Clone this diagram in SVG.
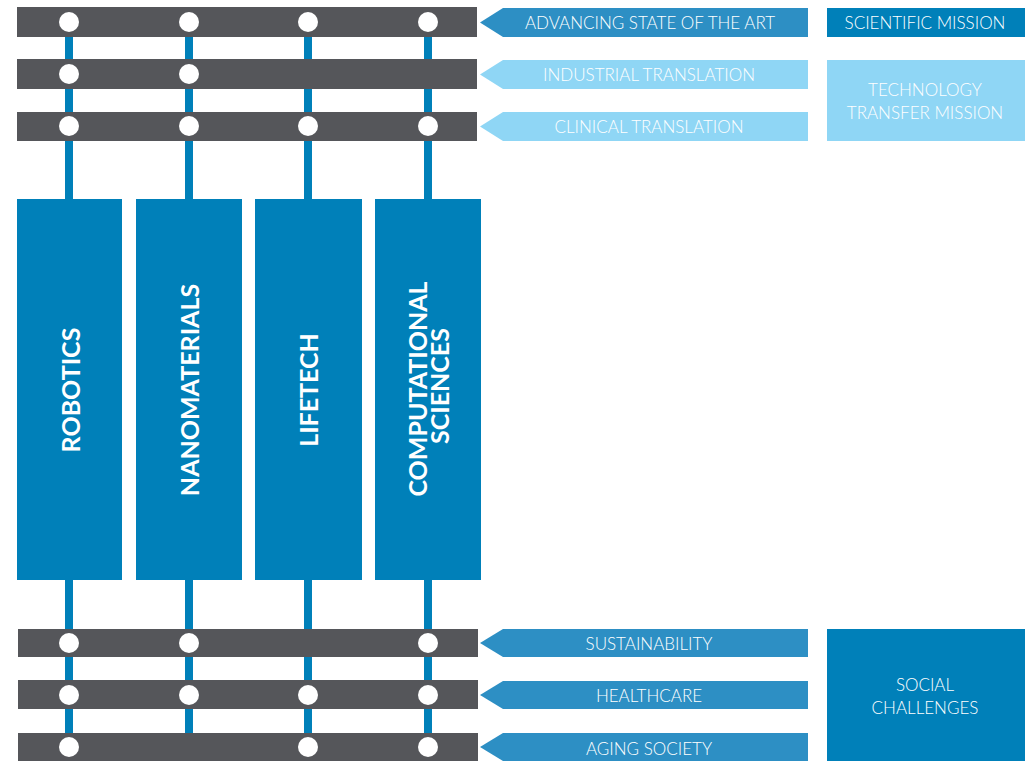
<svg xmlns="http://www.w3.org/2000/svg" width="1025" height="761" viewBox="0 0 1025 761">
<style>
.bar{fill:#55565a}
.dot{fill:#ffffff}
.col{fill:#0080b9}
.line{stroke:#0080b9;stroke-width:8;fill:none}
.arr-mid{fill:#2d8fc4}
.arr-light{fill:#8fd6f5}
.box-dark{fill:#0080b9}
.box-light{fill:#8fd6f5}
.lbl{font-family:Lato,"Open Sans","Liberation Sans",sans-serif;font-size:17px;font-weight:300;fill:#ffffff;text-anchor:middle}
.vlbl{font-family:Lato,"Open Sans","Liberation Sans",sans-serif;font-size:25px;font-weight:bold;fill:#ffffff;text-anchor:middle}
</style>
<rect width="1025" height="761" fill="#ffffff"/>
<g id="connectors">
<line class="line" x1="69" y1="22" x2="69" y2="761"/>
<line class="line" x1="189" y1="22" x2="189" y2="735"/>
<line class="line" x1="308" y1="22" x2="308" y2="761"/>
<line class="line" x1="428" y1="22" x2="428" y2="761"/>
</g>
<g id="bar-advancing">
<rect class="bar" x="17" y="7" width="460" height="30"/>
<circle class="dot" cx="69" cy="22" r="10"/><circle class="dot" cx="189" cy="22" r="10"/><circle class="dot" cx="308" cy="22" r="10"/><circle class="dot" cx="428" cy="22" r="10"/>
</g>
<g id="bar-industrial">
<rect class="bar" x="17" y="59" width="460" height="30"/>
<circle class="dot" cx="69" cy="74" r="10"/><circle class="dot" cx="189" cy="74" r="10"/>
</g>
<g id="bar-clinical">
<rect class="bar" x="17" y="112" width="460" height="29"/>
<circle class="dot" cx="69" cy="126" r="10"/><circle class="dot" cx="189" cy="126" r="10"/><circle class="dot" cx="308" cy="126" r="10"/><circle class="dot" cx="428" cy="126" r="10"/>
</g>
<g id="col-robotics">
<rect class="col" x="17" y="199" width="105" height="381"/>
<text class="vlbl" transform="translate(80,390) rotate(-90)">ROBOTICS</text>
</g>
<g id="col-nanomaterials">
<rect class="col" x="136" y="199" width="106" height="381"/>
<text class="vlbl" transform="translate(199,390) rotate(-90)">NANOMATERIALS</text>
</g>
<g id="col-lifetech">
<rect class="col" x="255" y="199" width="107" height="381"/>
<text class="vlbl" transform="translate(318,390) rotate(-90)">LIFETECH</text>
</g>
<g id="col-computational">
<rect class="col" x="375" y="199" width="106" height="381"/>
<text class="vlbl" transform="translate(427,389) rotate(-90)">COMPUTATIONAL</text>
<text class="vlbl" transform="translate(449,386) rotate(-90)">SCIENCES</text>
</g>
<g id="bar-sustainability">
<rect class="bar" x="18" y="629" width="460" height="28"/>
<circle class="dot" cx="69" cy="643" r="10"/><circle class="dot" cx="189" cy="643" r="10"/><circle class="dot" cx="428" cy="643" r="10"/>
</g>
<g id="bar-healthcare">
<rect class="bar" x="18" y="680" width="460" height="29"/>
<circle class="dot" cx="69" cy="695" r="10"/><circle class="dot" cx="189" cy="695" r="10"/><circle class="dot" cx="308" cy="695" r="10"/><circle class="dot" cx="428" cy="695" r="10"/>
</g>
<g id="bar-aging">
<rect class="bar" x="18" y="733" width="460" height="28"/>
<circle class="dot" cx="69" cy="747" r="10"/><circle class="dot" cx="308" cy="747" r="10"/><circle class="dot" cx="428" cy="747" r="10"/>
</g>
<g id="arrow-advancing">
<polygon class="arr-mid" points="480,22.5 503,8 808,8 808,37 503,37"/>
<text class="lbl" x="650" y="29">ADVANCING STATE OF THE ART</text>
</g>
<g id="arrow-industrial">
<polygon class="arr-light" points="480,74.5 503,60 808,60 808,89 503,89"/>
<text class="lbl" x="649" y="81">INDUSTRIAL TRANSLATION</text>
</g>
<g id="arrow-clinical">
<polygon class="arr-light" points="480,126.5 503,112 808,112 808,141 503,141"/>
<text class="lbl" x="649" y="133">CLINICAL TRANSLATION</text>
</g>
<g id="arrow-sustainability">
<polygon class="arr-mid" points="480,643 503,629 808,629 808,657 503,657"/>
<text class="lbl" x="649" y="650">SUSTAINABILITY</text>
</g>
<g id="arrow-healthcare">
<polygon class="arr-mid" points="480,695 503,681 808,681 808,709 503,709"/>
<text class="lbl" x="649" y="702">HEALTHCARE</text>
</g>
<g id="arrow-aging">
<polygon class="arr-mid" points="480,747 503,733 808,733 808,761 503,761"/>
<text class="lbl" x="649" y="755">AGING SOCIETY</text>
</g>
<g id="box-scientific">
<rect class="box-dark" x="827" y="8" width="198" height="29"/>
<text class="lbl" x="925" y="29">SCIENTIFIC MISSION</text>
</g>
<g id="box-technology">
<rect class="box-light" x="827" y="60" width="198" height="81"/>
<text class="lbl" x="925" y="96">TECHNOLOGY</text>
<text class="lbl" x="925" y="119">TRANSFER MISSION</text>
</g>
<g id="box-social">
<rect class="box-dark" x="827" y="629" width="198" height="132"/>
<text class="lbl" x="925" y="691">SOCIAL</text>
<text class="lbl" x="925" y="714">CHALLENGES</text>
</g>
</svg>
